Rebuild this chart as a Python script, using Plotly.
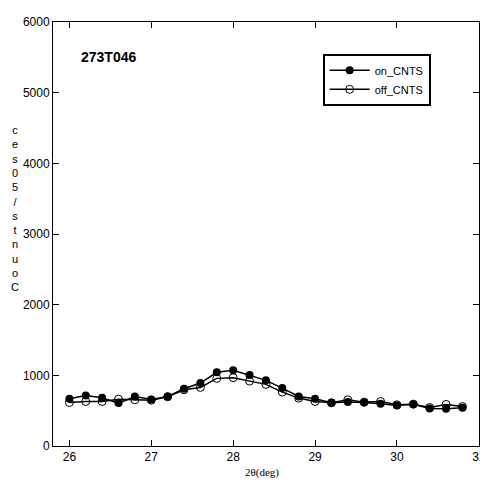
import plotly.graph_objects as go

# 2-theta scan positions (deg)
two_theta = [26.0, 26.2, 26.4, 26.6, 26.8, 27.0, 27.2, 27.4, 27.6, 27.8,
             28.0, 28.2, 28.4, 28.6, 28.8, 29.0, 29.2, 29.4, 29.6, 29.8,
             30.0, 30.2, 30.4, 30.6, 30.8]

# Counts per 50 s
on_cnts = [668, 716, 682, 607, 701, 659, 701, 810, 891, 1043,
           1071, 1005, 929, 820, 701, 668, 611, 621, 616, 597,
           573, 592, 531, 526, 540]
off_cnts = [616, 630, 630, 663, 654, 649, 697, 796, 829, 957,
            967, 919, 872, 763, 678, 630, 611, 654, 621, 630,
            583, 592, 545, 588, 559]

x_ticks = [26, 27, 28, 29, 30, 31]
y_ticks = [0, 1000, 2000, 3000, 4000, 5000, 6000]

sample_id = "273T046"
y_title = "Counts/50sec"

fig = go.Figure()
fig.add_trace(go.Scatter(
    x=two_theta, y=on_cnts, name="on_CNTS", mode="lines+markers",
    line=dict(color="black", width=1.5),
    marker=dict(symbol="circle", size=8, color="black"),
))
fig.add_trace(go.Scatter(
    x=two_theta, y=off_cnts, name="off_CNTS", mode="lines+markers",
    line=dict(color="black", width=1.5),
    marker=dict(symbol="circle-open", size=8, color="black", line=dict(width=1)),
))

axis_common = dict(
    showgrid=False, zeroline=False, showline=True, linecolor="black",
    linewidth=1, mirror="ticks", ticks="inside", ticklen=6,
    tickcolor="black", tickfont=dict(family="Arial, Liberation Sans", size=12, color="black"),
    automargin=False,
)

fig.update_xaxes(range=[25.8, 31.002], tickvals=x_ticks,
                 ticktext=[str(v) for v in x_ticks],
                 ticklabeloverflow="allow", **axis_common)
fig.update_yaxes(range=[0, 6000], tickvals=y_ticks,
                 ticktext=[str(v) for v in y_ticks], **axis_common)

# Sample label
fig.add_annotation(text="<b>" + sample_id + "</b>", xref="paper", yref="paper",
                   x=0.062, y=0.917, xanchor="left", yanchor="middle",
                   showarrow=False,
                   font=dict(family="Arial, Liberation Sans", size=14, color="black"))

# Vertical stacked y-axis title (characters run bottom to top)
fig.add_annotation(text="<br>".join(reversed(list(y_title))), xref="paper", yref="paper",
                   x=-0.09, y=0.56, xanchor="center", yanchor="middle",
                   showarrow=False, align="center",
                   font=dict(family="Arial, Liberation Sans", size=11, color="black"))

# x-axis title
fig.add_annotation(text="2θ(deg)", xref="paper", yref="paper",
                   x=0.49, y=-0.083, xanchor="center", yanchor="bottom",
                   showarrow=False,
                   font=dict(family="Times New Roman, Liberation Serif", size=11, color="black"))

fig.update_layout(
    width=480, height=482,
    margin=dict(l=53, r=1, t=22, b=36, autoexpand=False),
    paper_bgcolor="white", plot_bgcolor="white",
    showlegend=True,
    legend=dict(x=0.633, y=0.925, xanchor="left", yanchor="top",
                bordercolor="black", borderwidth=2, bgcolor="white",
                font=dict(family="Arial, Liberation Sans", size=11, color="black"),
                itemwidth=40, tracegroupgap=0),
)

fig.write_html("out.html")
